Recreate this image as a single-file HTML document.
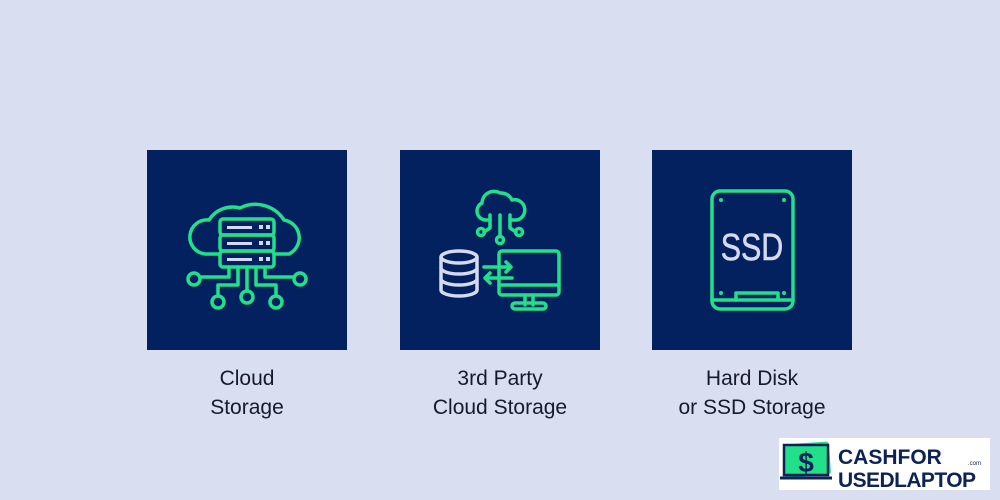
<!DOCTYPE html>
<html><head><style>
html,body{margin:0;padding:0;background:#d9def0;}
body{width:1000px;height:500px;overflow:hidden;position:relative;font-family:"Liberation Sans",sans-serif;}
.lbl{position:absolute;width:240px;text-align:center;font-size:21px;line-height:29px;color:#161a2c;top:364px;}
</style></head><body>
<svg width="1000" height="500" style="position:absolute;left:0;top:0">
<rect x="147" y="150" width="200" height="200" fill="#04215f"/>
<rect x="400" y="150" width="200" height="200" fill="#04215f"/>
<rect x="652" y="150" width="200" height="200" fill="#04215f"/>
<g fill="none" stroke="#22e08a" stroke-width="3.5" stroke-linecap="round" stroke-linejoin="round">
<path d="M220 254 H205 A17 17 0 0 1 209 220 A28 28 0 0 1 240 208 A34 34 0 0 1 284 220 A18 18 0 0 1 289 254 H274"/>
<rect x="220" y="219" width="54" height="16" rx="3"/>
<rect x="220" y="235" width="54" height="16" rx="3"/>
<rect x="220" y="251" width="54" height="16" rx="3"/>
<path d="M229 267 V277 H201"/><circle cx="194" cy="279" r="6"/>
<path d="M265 267 V277 H293"/><circle cx="300" cy="279" r="6"/>
<path d="M238 267 V285 H218 V296"/><circle cx="218" cy="302" r="6"/>
<path d="M256 267 V285 H276 V296"/><circle cx="276" cy="302" r="6"/>
<path d="M247 267 V291"/><circle cx="247" cy="297" r="6"/>
<path d="M490 220 H485 A9 9 0 0 1 482 203 A12 12 0 0 1 500 193 A12 12 0 0 1 512 200 A10 10 0 0 1 517 220 H510"/>
<path d="M490 215 V228 L484 232"/><circle cx="481" cy="232" r="3.5"/>
<path d="M500 215 V236"/><circle cx="500" cy="240" r="3.5"/>
<path d="M510 215 V228 L516 232"/><circle cx="519" cy="232" r="3.5"/>
<rect x="499" y="251" width="60" height="44" rx="3"/>
<path d="M499 285 H559"/>
<path d="M525 295 V305 M533 295 V305"/>
<rect x="512" y="303" width="34" height="6" rx="3"/>
<path d="M484 267 H511 M506 262 L511 267 L506 272"/>
<path d="M512 278 H485 M490 273 L485 278 L490 283"/>
<rect x="712" y="191" width="81" height="118" rx="8"/>
<path d="M712 300 H793"/>
<path d="M736 300 V293 H778 V300"/>
</g>
<g fill="#22e08a"><circle cx="721" cy="200" r="2"/><circle cx="784" cy="200" r="2"/><circle cx="721" cy="293" r="2"/><circle cx="784" cy="293" r="2"/></g>
<g fill="none" stroke="#d5daf0" stroke-width="3.5">
<ellipse cx="459" cy="257" rx="18" ry="6"/>
<path d="M441 257 V290 A18 6 0 0 0 477 290 V257"/>
<path d="M441 268 A18 6 0 0 0 477 268 M441 279 A18 6 0 0 0 477 279"/>
</g>
<g fill="#d5daf0">
<rect x="227" y="226" width="25" height="3"/><rect x="259" y="225" width="4" height="4"/><rect x="266" y="225" width="4" height="4"/>
<rect x="227" y="242" width="25" height="3"/><rect x="259" y="241" width="4" height="4"/><rect x="266" y="241" width="4" height="4"/>
<rect x="227" y="258" width="25" height="3"/><rect x="259" y="257" width="4" height="4"/><rect x="266" y="257" width="4" height="4"/>
<text x="752" y="260" text-anchor="middle" font-family="Liberation Sans Narrow, Liberation Sans, sans-serif" font-size="38" stroke="#d5daf0" stroke-width="0.6" transform="translate(752 0) scale(0.8 1) translate(-752 0)">SSD</text>
</g>
<rect x="779" y="438" width="211" height="52" fill="#fff"/>
<rect x="784" y="443" width="46" height="33" rx="3" fill="#22e08a" transform="rotate(-4 807 460)"/>
<rect x="784" y="445" width="44" height="30" fill="none" stroke="#0d2257" stroke-width="2.5"/>
<path d="M780 478 H832" stroke="#0d2257" stroke-width="3"/>
<text x="806" y="472" text-anchor="middle" font-size="28" font-weight="bold" fill="#0d2257">$</text>
<text x="838" y="464" font-size="21" font-weight="bold" fill="#0d2257">CASHFOR</text>
<text x="838" y="487" font-size="21" font-weight="bold" fill="#0d2257" textLength="138">USEDLAPTOP</text>
<text x="968" y="465" font-size="6" fill="#0d2257">.com</text>
</svg>
<div class="lbl" style="left:127px">Cloud<br>Storage</div>
<div class="lbl" style="left:380px">3rd Party<br>Cloud Storage</div>
<div class="lbl" style="left:632px">Hard Disk<br>or SSD Storage</div>
</body></html>
